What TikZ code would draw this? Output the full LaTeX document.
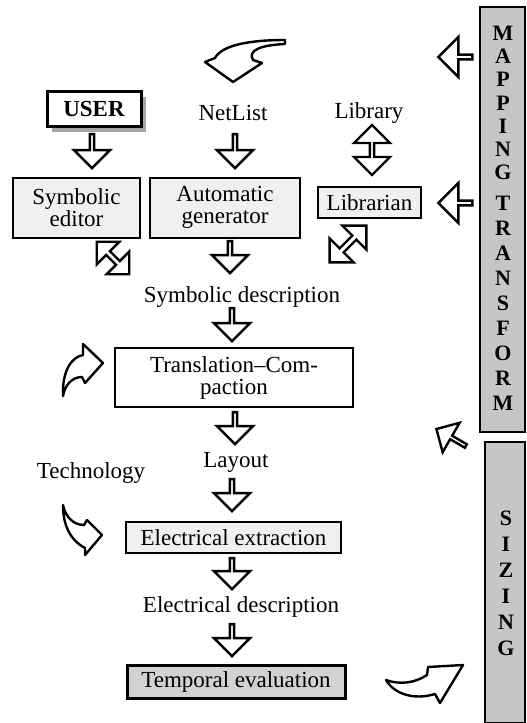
\documentclass[tikz,border=0pt]{standalone}
\usepackage{fontspec}
\setmainfont{Liberation Serif}
\usetikzlibrary{positioning}
\usetikzlibrary{shapes.arrows}

\begin{document}
\begin{tikzpicture}[
                x=0.5pt, y=-0.5pt,
                font=\fontsize{11.5}{13}\selectfont,
                box/.style = {
                    draw,
                    line width = 1pt,
                    fill = #1,
                    align = center,
                    inner sep = 0pt
                },
                box/.default = white,
                side/.style = {
                    draw,
                    line width = 0.8pt,
                    fill = gray!45
                },
                letters/.style = {
                    font=\fontsize{11}{11}\selectfont\bfseries,
                    inner sep = 0pt
                },
                flow/.style = {
                    single arrow,
                    draw,
                    line width = 1.2pt,
                    fill = white,
                    minimum width = 18pt,
                    single arrow head extend = 4.5pt,
                    minimum height = #1,
                    inner sep = 0pt,
                    shape border rotate = 270
                },
                flow/.default = 17pt,
                twoway/.style = {
                    double arrow,
                    draw,
                    line width = 1.2pt,
                    fill = white,
                    minimum width = 18pt,
                    double arrow head extend = 4.5pt,
                    minimum height = #1,
                    inner sep = 0pt
                },
                curly/.style = {
                    draw,
                    line width = 1.2pt,
                    line join = round,
                    fill = white
                }
            ]
            \useasboundingbox (0,0) rectangle (526,723);
            % side bands
            \path[side] (480,7) rectangle (525,432);
            \path[side] (485,442) rectangle (525,723);
            \foreach \ch [count=\i from 0] in {M,A,P,P,I,N,G}
                \node[letters] (map\i) at (503,33+23.3*\i) {\ch};
            \foreach \ch [count=\i from 0] in {T,R,A,N,S,F,O,R,M}
                \node[letters] (tra\i) at (503,203+25*\i) {\ch};
            \foreach \ch [count=\i from 0] in {S,I,Z,I,N,G}
                \node[letters] (siz\i) at (506,518+26*\i) {\ch};
            % 
            % boxes and texts
            \fill[gray!70] (52,97) rectangle (146,132);
            \node[box, font=\fontsize{11.5}{13}\selectfont\bfseries,
                  minimum width=47pt, minimum height=17.5pt,
                  line width=1.5pt] (user) at (94,109) {USER};
            \node (netlist) at (233,113) {NetList};
            \node (library) at (369,113) {Library};
            \node[box=gray!12, minimum width=63.5pt, minimum height=30pt] (symed) at (76.5,208) {Symbolic\\[-2pt]editor};
            \node[box=gray!12, minimum width=75pt, minimum height=30pt] (autogen) at (225,207.5) {Automatic\\[-2pt]generator};
            \node[box=gray!12, minimum width=51.5pt, minimum height=15.5pt] (librarian) at (369.5,202.5) {Librarian};
            \node (symdesc) at (242,297) {Symbolic description};
            \node[box, minimum width=119pt, minimum height=29.5pt] (transl) at (234,377.5) {Translation--Com-\\[-2pt]paction};
            \node (layout) at (236,462) {Layout};
            \node (techno) at (91,473) {Technology};
            \node[box=gray!12, minimum width=107.5pt, minimum height=15.5pt] (elext) at (233.5,537.5) {Electrical extraction};
            \node (eldesc) at (241,607) {Electrical description};
            \node[box=gray!35, minimum width=109pt, minimum height=16.5pt, line width=1.5pt] (tempev) at (236,681.5) {Temporal evaluation};
            % 
            % straight block arrows
            \node[flow] (a1) at (92,150) {};
            \node[flow] (a2) at (235,150) {};
            \node[flow=16pt] (a3) at (230,256) {};
            \node[flow=16.5pt] (a4) at (232,323.5) {};
            \node[flow=16pt] (a5) at (235,427) {};
            \node[flow=16pt] (a6) at (232,494) {};
            \node[flow=15.5pt] (a7) at (232,572.5) {};
            \node[flow=16pt] (a8) at (232,639) {};
            \node[twoway=25pt, shape border rotate=90] (a9) at (372,150) {};
            \node[flow, minimum width=20pt, shape border rotate=180] (a10) at (456.5,57) {};
            \node[flow, minimum width=20pt, shape border rotate=180] (a11) at (456.5,203) {};
            \node[flow, minimum width=17pt, shape border rotate=0, rotate=150] (a12) at (452,438) {};
            \node[twoway=23pt, minimum width=16pt, double arrow head extend=3pt, rotate=-45] (a13) at (113,258) {};
            \node[twoway=26pt, minimum width=17pt, double arrow head extend=3pt, rotate=45] (a14) at (348,244) {};
            % 
            % curved arrows
            \draw[curly] (285,40) .. controls (250,40) and (222,45) .. (215,58) -- (205,62) -- (233,82) -- (262,63) -- (253,60) .. controls (247,50) and (262,45) .. (285,44) -- cycle;
            \draw[curly] (63,396) .. controls (62,370) and (72,357) .. (83,355) -- (83,344) -- (103,363) -- (85,383) -- (82,377) .. controls (72,377) and (65,385) .. (63,396) -- cycle;
            \draw[curly] (63,505) .. controls (65,515) and (72,525) .. (84,525) -- (87,520) -- (102,535) -- (85,555) -- (85,548) .. controls (70,540) and (63,525) .. (63,505) -- cycle;
            \draw[curly] (386,680) .. controls (400,685) and (415,683) .. (427,675) -- (428,667) -- (463,665) -- (440,703) -- (435,694) .. controls (415,700) and (395,695) .. (386,680) -- cycle;
            % 
        \end{tikzpicture}
\end{document}
